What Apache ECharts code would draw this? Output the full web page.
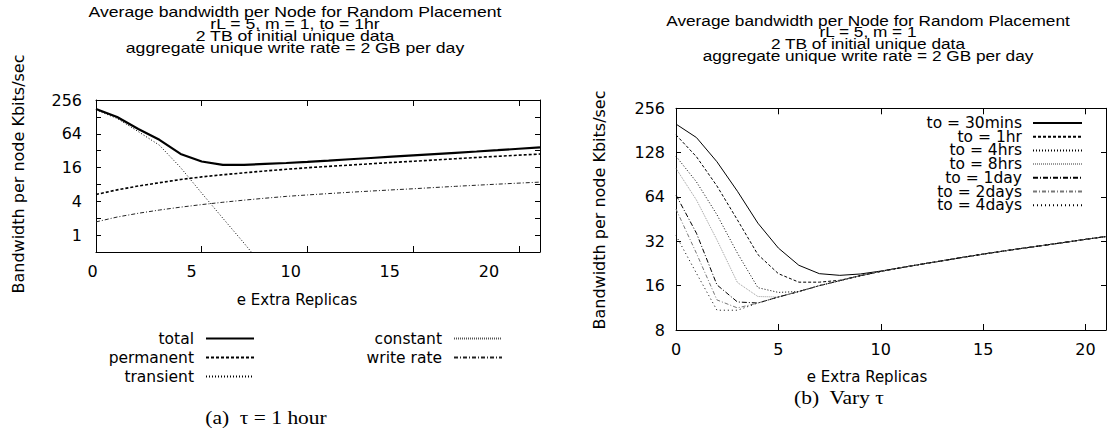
<!DOCTYPE html>
<html><head><meta charset="utf-8">
<script src="https://cdn.jsdelivr.net/npm/echarts@6/dist/echarts.min.js"></script>
<style>html,body{margin:0;padding:0;background:#fff}#c{width:1120px;height:433px}</style>
</head><body><div id="c"></div>
<script>
// ---------- data ----------
const replicas = [0,1,2,3,4,5,6,7,8,9,10,11,12,13,14,15,16,17,18,19,20,21];
const xTicks = [0,5,10,15,20];
const leftYTickLabels = [1,4,16,64,256];
const rightYTickLabels = [8,16,32,64,128,256];

// (a) tau = 1 hour
const leftTotal     = [177,127,78,50,28,20.5,17.8,17.8,18.6,19.3,20.2,21.3,22.5,23.7,25.0,26.4,27.8,29.3,30.9,32.6,34.6,36.7];
const leftPermanent = [5.3,6.4,7.5,8.6,9.8,10.9,11.9,12.9,13.9,14.9,15.9,16.8,17.7,18.7,19.7,20.7,21.8,23.0,24.2,25.4,26.6,27.9];
const leftTransient = [170,120,70,40,16,5.6,2.0,0.72,0.25,null,null,null,null,null,null,null,null,null,null,null,null,null];
const leftConstant  = [0.25,0.25,0.25,0.25,0.25,0.25,0.25,0.25,0.25,0.25,0.25,0.25,0.25,0.25,0.25,0.25,0.25,0.25,0.25,0.25,0.25,0.25];
const leftWriteRate = [1.72,2.1,2.45,2.8,3.15,3.5,3.85,4.2,4.55,4.9,5.2,5.5,5.8,6.1,6.4,6.7,7.05,7.4,7.75,8.1,8.45,8.8];

// (b) vary tau
const to30mins = [200,162,111,70,42.5,28.8,22,19.3,18.8,19.2,20.1,21.2,22.4,23.6,24.9,26.2,27.5,28.8,30.1,31.5,33.0,34.5];
const to1hr    = [169,120,76,44.7,26,19.3,16.9,16.9,17.4,18.7,20.0,21.2,22.4,23.6,24.9,26.2,27.5,28.8,30.1,31.5,33.0,34.5];
const to4hrs   = [121,81,48.5,26.6,15.5,14.4,14.6,16.0,17.3,18.7,20.0,21.2,22.4,23.6,24.9,26.2,27.5,28.8,30.1,31.5,33.0,34.5];
const to8hrs   = [100,61,32.7,16.8,13.5,13.4,14.6,16.0,17.3,18.7,20.0,21.2,22.4,23.6,24.9,26.2,27.5,28.8,30.1,31.5,33.0,34.5];
const to1day   = [66,36.3,16.2,12.4,12.2,13.4,14.6,16.0,17.3,18.7,20.0,21.2,22.4,23.6,24.9,26.2,27.5,28.8,30.1,31.5,33.0,34.5];
const to2days  = [53,26.5,12.8,11.3,12.2,13.4,14.6,16.0,17.3,18.7,20.0,21.2,22.4,23.6,24.9,26.2,27.5,28.8,30.1,31.5,33.0,34.5];
const to4days  = [35,19.4,10.9,10.9,12.2,13.4,14.6,16.0,17.3,18.7,20.0,21.2,22.4,23.6,24.9,26.2,27.5,28.8,30.1,31.5,33.0,34.5];

// ---------- build ----------
const FONT = 'DejaVu Sans';
const pairs = arr => replicas.map((x,i) => [x, arr[i]]);
const inList = (list, v) => list.some(t => Math.abs(t - v) < 1e-6 * Math.max(1, t));

function xAx(grid, pos, showLabel, extra) {
  return Object.assign({
    type: 'value', gridIndex: grid, position: pos, min: 0, max: 21, interval: 5,
    axisLine: {show: true, onZero: false, lineStyle: {color: '#000', width: 1}},
    axisTick: {show: true, inside: true, length: 6, lineStyle: {color: '#000'}},
    axisLabel: {show: showLabel, color: '#000', fontFamily: FONT, fontSize: 16, margin: 11, showMaxLabel: false,
      formatter: v => inList(xTicks, v) ? String(v) : ''},
    splitLine: {show: false}
  }, extra || {});
}
function yAx(grid, pos, min, max, labels, showLabel, margin) {
  return {
    type: 'log', logBase: 2, gridIndex: grid, position: pos, min: min, max: max,
    splitNumber: Math.round(Math.log2(max / min)),
    axisLine: {show: true, onZero: false, lineStyle: {color: '#000', width: 1}},
    axisTick: {show: true, inside: true, length: 5, lineStyle: {color: '#000'}},
    axisLabel: {show: showLabel, color: '#000', fontFamily: FONT, fontSize: 16, margin: margin,
      showMinLabel: true, showMaxLabel: true,
      formatter: v => { const r = Math.round(v * 1000) / 1000; return inList(labels, r) ? String(Math.round(r)) : ''; }},
    splitLine: {show: false}
  };
}
function line(name, data, xi, yi, color, width, type) {
  return {
    name: name, type: 'line', xAxisIndex: xi, yAxisIndex: yi, data: pairs(data),
    symbol: 'none', showSymbol: false, clip: true, connectNulls: false,
    lineStyle: {color: color, width: width, type: type},
    itemStyle: {color: color},
    emphasis: {disabled: true}, silent: true
  };
}
const legendBase = {orient: 'vertical', align: 'right', padding: 0, selectedMode: false,
  itemStyle: {opacity: 0, borderWidth: 0}};

const chart = echarts.init(document.getElementById('c'), null, {renderer: 'svg'});
chart.setOption({
  backgroundColor: '#fff',
  animation: false,
  grid: [
    {left: 96, top: 100, width: 444, height: 152},
    {left: 676, top: 108.3, width: 430, height: 221.7},
    {left: 92.5, top: 100, width: 416.2, height: 152}
  ],
  xAxis: [
    xAx(0, 'bottom', false),
    xAx(0, 'top', false),
    xAx(1, 'bottom', true),
    xAx(1, 'top', false),
    xAx(2, 'bottom', true, {axisLine: {show: false}, axisTick: {show: false}})
  ],
  yAxis: [
    yAx(0, 'left', 0.5, 256, leftYTickLabels, true, 14),
    yAx(0, 'right', 0.5, 256, leftYTickLabels, false, 8),
    yAx(1, 'left', 8, 256, rightYTickLabels, true, 11),
    yAx(1, 'right', 8, 256, rightYTickLabels, false, 8),
    {type: 'value', gridIndex: 2, show: false, min: 0, max: 1}
  ],
  legend: [
    Object.assign({}, legendBase, {data: ['total','permanent','transient'], right: 865, top: 330.5,
     itemGap: 3, itemWidth: 48, itemHeight: 14,
     textStyle: {fontFamily: FONT, fontSize: 15.5, color: '#000', padding: [0, 7, 0, 0]}}),
    Object.assign({}, legendBase, {data: ['constant','write rate'], right: 617, top: 330.5,
     itemGap: 3, itemWidth: 48, itemHeight: 14,
     textStyle: {fontFamily: FONT, fontSize: 15.5, color: '#000', padding: [0, 7, 0, 0]}}),
    Object.assign({}, legendBase, {data: ['to = 30mins','to = 1hr','to = 4hrs','to = 8hrs','to = 1day','to = 2days','to = 4days'],
     right: 37, top: 115, itemGap: -2.3, itemWidth: 49, itemHeight: 13.4,
     textStyle: {fontFamily: FONT, fontSize: 15.5, color: '#000', padding: [0, 6, 0, 0]}})
  ],
  series: [
    line('total', leftTotal, 0, 0, '#000', 2.2, 'solid'),
    line('permanent', leftPermanent, 0, 0, '#000', 1.6, [3, 2]),
    line('transient', leftTransient, 0, 0, '#000', 1, [1, 2]),
    line('constant', leftConstant, 0, 0, '#555', 1, [1, 1]),
    line('write rate', leftWriteRate, 0, 0, '#222', 1, [4, 2, 1, 2]),
    line('to = 30mins', to30mins, 2, 2, '#000', 1, 'solid'),
    line('to = 1hr', to1hr, 2, 2, '#000', 1, [3, 2]),
    line('to = 4hrs', to4hrs, 2, 2, '#000', 1, [1, 2]),
    line('to = 8hrs', to8hrs, 2, 2, '#999', 1, [1, 1]),
    line('to = 1day', to1day, 2, 2, '#000', 1, [5, 2, 1, 2]),
    line('to = 2days', to2days, 2, 2, '#777', 1, [4, 2, 1, 2]),
    line('to = 4days', to4days, 2, 2, '#000', 1, [1, 3])
  ],
  graphic: [
    {type: 'text', x: 295, y: 6, scaleX: 1.26, style: {text: 'Average bandwidth per Node for Random Placement\nrL = 5, m = 1, to = 1hr\n2 TB of initial unique data\naggregate unique write rate = 2 GB per day',
      font: '14px "Liberation Sans"', fill: '#000', align: 'center', verticalAlign: 'top', lineHeight: 12.1}},
    {type: 'text', x: 868, y: 15, scaleX: 1.23, style: {text: 'Average bandwidth per Node for Random Placement\nrL = 5, m = 1\n2 TB of initial unique data\naggregate unique write rate = 2 GB per day',
      font: '14px "Liberation Sans"', fill: '#000', align: 'center', verticalAlign: 'top', lineHeight: 11.7}},
    {type: 'text', x: 18.5, y: 174, rotation: Math.PI / 2, style: {text: 'Bandwidth per node Kbits/sec',
      font: '16px "DejaVu Sans"', fill: '#000', align: 'center', verticalAlign: 'middle'}},
    {type: 'text', x: 599, y: 210, rotation: Math.PI / 2, style: {text: 'Bandwidth per node Kbits/sec',
      font: '16px "DejaVu Sans"', fill: '#000', align: 'center', verticalAlign: 'middle'}},
    {type: 'text', x: 297, y: 300, style: {text: 'e Extra Replicas',
      font: '15px "DejaVu Sans"', fill: '#000', align: 'center', verticalAlign: 'middle'}},
    {type: 'text', x: 867, y: 377, style: {text: 'e Extra Replicas',
      font: '15px "DejaVu Sans"', fill: '#000', align: 'center', verticalAlign: 'middle'}},
    {type: 'text', x: 266, y: 417, scaleX: 1.13, style: {text: '(a)  τ = 1 hour',
      font: '19px "Liberation Serif"', fill: '#000', align: 'center', verticalAlign: 'middle'}},
    {type: 'text', x: 839, y: 397, scaleX: 1.13, style: {text: '(b)  Vary τ',
      font: '19px "Liberation Serif"', fill: '#000', align: 'center', verticalAlign: 'middle'}}
  ]
});
</script>
</body></html>
